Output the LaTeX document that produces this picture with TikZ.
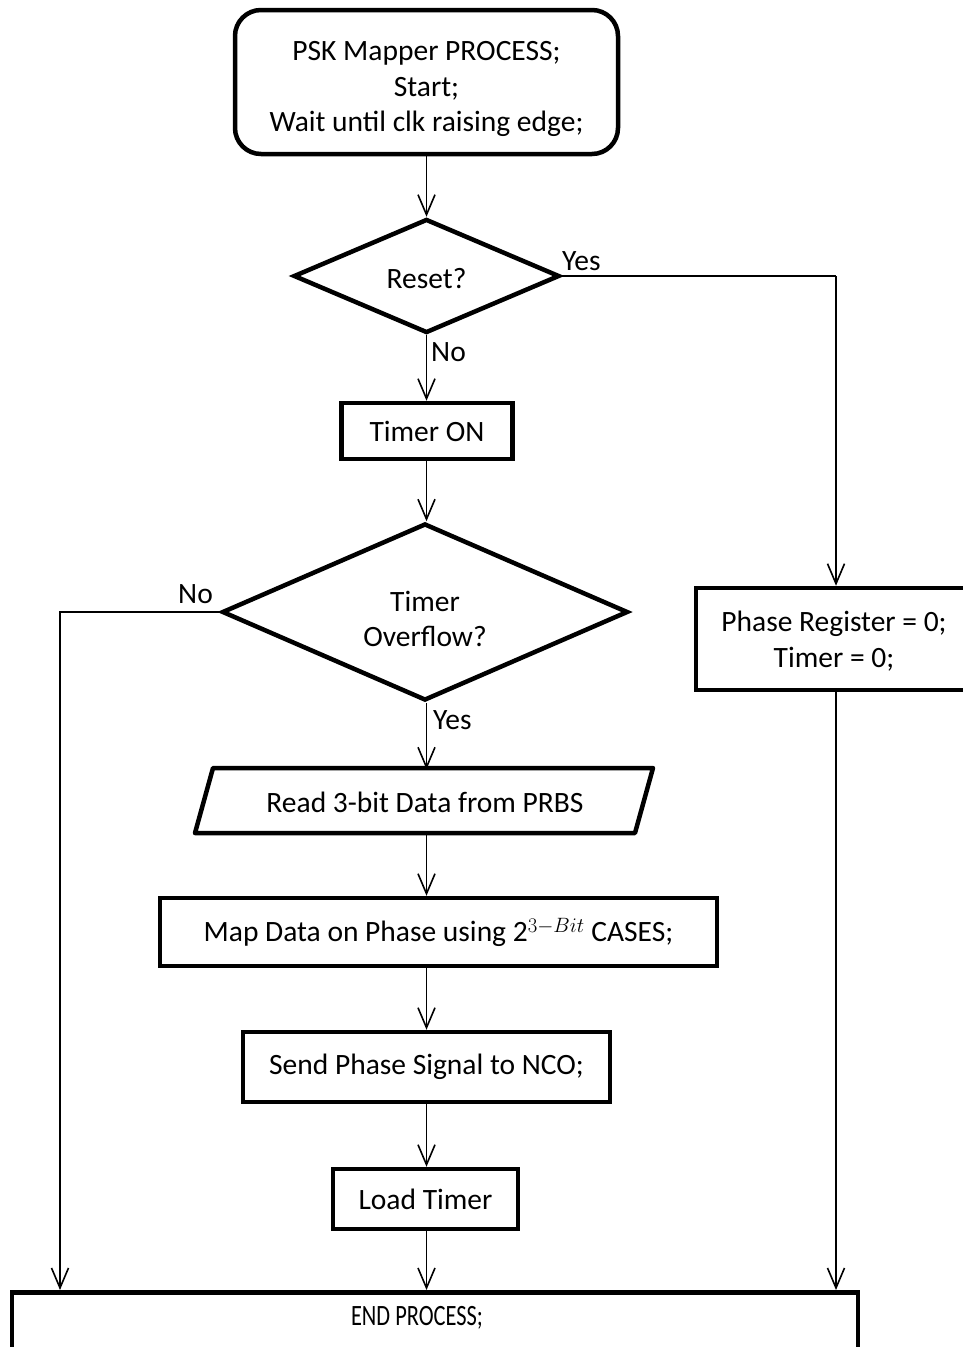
\documentclass[tikz,border=0pt]{standalone}
\usepackage{fontspec}
\usepackage{graphicx}
\setmainfont{Carlito}
\usetikzlibrary{arrows.meta,shapes.geometric}
\begin{document}
\begin{tikzpicture}[x=1pt,y=-1pt,
  every node/.style={font=\fontsize{29.5}{35.5}\selectfont, align=center},
  box/.style={draw, line width=4.5pt, inner sep=0pt},
  decision/.style={draw, diamond, line width=4.5pt, inner sep=0pt},
  flow/.style={line width=1.6pt, -{Straight Barb[length=20pt,width=17pt,line width=1.6pt]}},
  link/.style={line width=1.6pt},
  lbl/.style={inner sep=0pt}]
\useasboundingbox (0,0) rectangle (963,1347);
\begin{scope}
\clip (0,0) rectangle (963,1347);

% process start
\node[box, rounded corners=26pt, minimum width=383pt, minimum height=144pt] (start) at (426.5,82) {};
\node[lbl] (starttxt) at (426.5,89)
  {PSK Mapper PROCESS;\\Start;\\Wait until clk raising edge;};

% reset test
\node[decision, minimum width=266pt, minimum height=114pt] (reset) at (426.5,276) {};
\node[lbl] (resettxt) at (426.5,279) {Reset?};

\node[box, minimum width=171pt, minimum height=56pt] (timeron) at (427,431) {Timer ON};

% timer overflow test
\node[decision, minimum width=406pt, minimum height=177pt] (overflow) at (425,612) {};
\node[lbl] (overflowtxt) at (425,619) {Timer\\Overflow?};

% input parallelogram
\node[minimum width=400pt, minimum height=65pt, inner sep=0pt] (read) at (425,802) {Read 3-bit Data from PRBS};
\draw[line width=4.5pt, line join=round] (213,768) -- (653,768) -- (635,833) -- (195,833) -- cycle;

\node[box, minimum width=557pt, minimum height=68pt] (map) at (438.5,932)
  {Map Data on Phase using 2$^{3-Bit}$ CASES;};

\node[box, minimum width=367pt, minimum height=70pt] (send) at (426.5,1067) {Send Phase Signal to NCO;};

\node[box, minimum width=185pt, minimum height=60pt] (load) at (425.5,1199) {Load Timer};

\node[box, minimum width=279pt, minimum height=102pt] (phase) at (835.5,639) {};
\node[lbl] (phasetxt) at (834,641) {Phase Register = 0;\\Timer = 0;};

% end process (runs past the lower edge)
\node[box, minimum width=846pt, minimum height=110pt, anchor=north] (endp) at (435,1290) {};
\node[lbl] (endtxt) at (417,1318) {\scalebox{0.76}[1]{END PROCESS;}};

\coordinate (endL) at (60,1290);
\coordinate (endR) at (836,1290);
\coordinate (yesR) at (836,276);
\coordinate (mid) at (426.5,0);

% connectors
\draw[flow] (start.south -| mid) -- (reset.north -| mid);
\draw[link] (reset.east) -- (yesR);
\draw[flow] (yesR) -- (phase.north -| yesR);
\draw[flow] (reset.south -| mid) -- (timeron.north -| mid);
\draw[flow] (timeron.south -| mid) -- (overflow.north -| mid);
\draw[flow] (overflow.west) -| (endL);
\draw[flow] (overflow.south -| mid) -- (read.north -| mid);
\draw[flow] (read.south -| mid) -- (map.north -| mid);
\draw[flow] (map.south -| mid) -- (send.north -| mid);
\draw[flow] (send.south -| mid) -- (load.north -| mid);
\draw[flow] (load.south -| mid) -- (endp.north -| mid);
\draw[flow] (phase.south -| endR) -- (endR);

% branch labels
\node[lbl, anchor=south west] (yes1) at (562,271) {Yes};
\node[lbl, anchor=west] (no1) at (431,352) {No};
\node[lbl, anchor=south east] (no2) at (213,604) {No};
\node[lbl, anchor=west] (yes2) at (433,720) {Yes};
\end{scope}
\end{tikzpicture}
\end{document}
